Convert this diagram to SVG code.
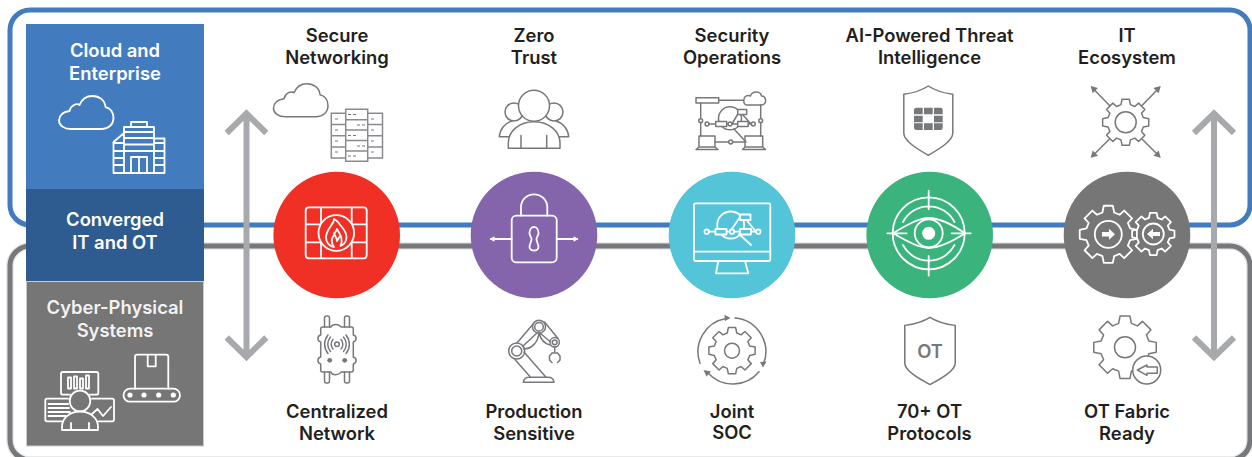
<svg xmlns="http://www.w3.org/2000/svg" width="1252" height="457" viewBox="0 0 1252 457">
<style>
text{font-family:Inter,"Liberation Sans",sans-serif;font-weight:600;font-size:18.4px;text-anchor:middle}
.d{fill:#231f20}.w{fill:#fff}
.fr{fill:none;stroke-width:5}
.lg{fill:none;stroke:#77787b;stroke-width:1.5;stroke-linejoin:round;stroke-linecap:round}
.lw{fill:none;stroke:#fff;stroke-width:1.8;stroke-linejoin:round;stroke-linecap:round}
.arr{fill:none;stroke:#a7a9ac;stroke-width:6}
</style>
<defs>
<path id="cloud" d="M71 129H101C109 129 113.500 124 113.500 118C113.500 112 110 108 105.500 107C105 100 99 96 92.500 96C86 96 81.500 100 79.500 105C78 104 76 104 74 105C71 106.500 70 108.500 69.500 111C63 112 59 115 59 120.500C59 125.500 64 129 71 129Z"/>
<path id="gear" vector-effect="non-scaling-stroke" d="M-15.500-98.500L15.500-98.500L20.200-75.300L39-67.500L55-81.900L81.900-55L67.500-39L75.300-20.200L98.500-15.500L98.500 15.500L75.300 20.200L67.500 39L81.900 55L55 81.900L39 67.500L20.200 75.300L15.500 98.500L-15.500 98.500L-20.200 75.300L-39 67.500L-55 81.900L-81.900 55L-67.500 39L-75.300 20.200L-98.500 15.500L-98.500-15.500L-75.300-20.200L-67.500-39L-81.900-55L-55-81.900L-39-67.500L-20.200-75.300Z"/>
<path id="shield" d="M0 0C6 4 15 7 24.500 8.300V47C24.500 55 11 63 0 69.300C-11 63-24.500 55-24.500 47V8.300C-15 7-6 4 0 0Z"/>
</defs>

<g id="connectors">
<rect class="fr" x="10" y="10" width="1240" height="215" rx="20" stroke="#427cbf"/>
<rect x="10" y="246" width="1240" height="214" rx="20" fill="none" stroke="#e3e4e5" stroke-width="7.500"/>
<rect class="fr" x="10" y="246" width="1240" height="214" rx="20" stroke="#77787b"/>
<path class="arr" d="M246.500 112V358M226.700 133L246.500 113.500L266.300 133M226.700 337.500L246.500 357L266.300 337.500"/>
<path class="arr" d="M1214 112V358M1194 133L1214 113.500L1234 133M1194 337.500L1214 357L1234 337.500"/>
</g>

<g id="panel-cloud">
<rect x="26" y="24" width="178" height="165" fill="#427cbf"/>
<text class="w" x="115" y="57">Cloud and</text><text class="w" x="115" y="80">Enterprise</text>
<use href="#cloud" class="lw"/>
<path class="lw" d="M131 127V122H147V127M124 173V127H154V173M113.500 173H164.500M113.500 173V142L124 133M154 138.500H164.500V173M124 132H154M124 138H154M124 144.500H154M124 151H154M131 173V157H147V173M139 157V173M113.500 143H124M113.500 151H124M113.500 158H124M113.500 165H124M154 143H164.500M154 151H164.500M154 158H164.500M154 165H164.500" stroke-width="1.300"/>
</g>
<g id="panel-converged">
<rect x="26" y="189" width="178" height="92" fill="#2e5c90"/>
<text class="w" x="115" y="226">Converged</text><text class="w" x="115" y="248.700">IT and OT</text>
</g>
<g id="panel-cps">
<rect x="26.500" y="281.500" width="177" height="164.500" fill="#767676" stroke="#c9cacb" stroke-width="1"/>
<text class="w" x="115" y="314" fill-opacity=".92">Cyber-Physical</text><text class="w" x="115" y="337" fill-opacity=".92">Systems</text>
<path class="lw" d="M70 394.700H63Q61 394.700 61 392.700V374Q61 372 63 372H96.300Q98.300 372 98.300 374V392.700Q98.300 394.700 96.300 394.700H90"/>
<path class="lw" d="M68 377.500h3v11h-3zM74 376.500h3v12h-3zM80 378.500h3v10h-3zM86 375.500h3v13h-3z" stroke-width="1.200"/>
<path class="lw" d="M68 398.700H47Q45.300 398.700 45.300 400.400V419.600Q45.300 421.300 47 421.300H63M92 398.700H112.300Q114 398.700 114 400.400V419.600Q114 421.300 112.300 421.300H98"/>
<path class="lw" d="M48.500 404H68M48.500 408H69M48.500 412H70M48.500 416H66M92 414L97.500 409L103 416L111 407" stroke-width="1.200"/>
<circle class="lw" cx="80" cy="401" r="10.300"/>
<path class="lw" d="M62 430V427C62 418 70 411.500 80 411.500C90 411.500 98 418 98 427V430ZM71 430V423M89 430V423"/>
<path class="lw" d="M135 388.700V357Q135 354.700 137.300 354.700H166Q168.300 354.700 168.300 357V388.700M147.700 354.700V366.300H155.700V354.700"/>
<rect class="lw" x="123.500" y="388.700" width="56.500" height="13" rx="6.500"/>
<circle class="w" cx="130" cy="395" r="2.600"/><circle class="w" cx="144" cy="395" r="2.600"/><circle class="w" cx="158.700" cy="395" r="2.600"/><circle class="w" cx="173.300" cy="395" r="2.600"/>
</g>

<g id="node-secure-networking">
<text class="d" x="337" y="41.600">Secure</text><text class="d" x="337" y="64">Networking</text>
<use href="#cloud" class="lg" x="214.500" y="-12.300"/>
<path d="M345.700 109.300H367.700V161.300H345.700ZM345.700 119.700H367.700M345.700 130.100H367.700M345.700 140.500H367.700M345.700 150.900H367.700M345.700 113.300H331.300V158H345.700M331.300 124.500H345.700M331.300 135.700H345.700M331.300 146.900H345.700M367.700 113.300H382.500V158H367.700M367.700 124.500H382.500M367.700 135.700H382.500M367.700 146.900H382.500" fill="none" stroke="#8a8b8e" stroke-width="1.500"/>
<path d="M335 119h3M335 130h3M335 141h3M335 152h3M371 119h3M371 130h3M371 141h3M371 152h3M348 114.500h3M353 114.500h3M357 125h3M362 125h3M348 135.500h3M353 135.500h3M357 146h3M362 146h3M348 156h3M353 156h3" stroke="#77787b" stroke-width="1.200" fill="none"/>
<circle cx="336.700" cy="235" r="63.300" fill="#f03024"/>
<path class="lw" d="M309 207.300H363.500Q366.700 207.300 366.700 210.500V255Q366.700 258.300 363.500 258.300H309Q305.700 258.300 305.700 255V210.500Q305.700 207.300 309 207.300ZM321 207.300V258.300M351.700 207.300V258.300M305.700 224.300H366.700M305.700 242.300H366.700"/>
<circle cx="336.300" cy="233" r="17.800" fill="#f03024" stroke="#fff" stroke-width="1.800"/>
<path class="lw" d="M334 219C334.500 224 326 229 326 237.500C326 243 330 246.500 334 247C331 243 331 239 334 235C335 232 336.500 231 337 229C339 233 344 238 340.500 246C343 245 346.500 242 346.500 237C346.500 230 340 226 338.500 222.500C337 221 335.500 220 334 219ZM334 233C335 236 337 238 337 241L340 236"/>
<text class="d" x="337" y="417.700">Centralized</text><text class="d" x="337" y="439.700">Network</text>
<path class="lg" d="M324.500 327V318Q324.500 316 326.500 316H327.500Q329.500 316 329.500 318V327M344.500 327V318Q344.500 316 346.500 316H347.500Q349.500 316 349.500 318V327M324.500 372V381Q324.500 383 326.500 383H327.500Q329.500 383 329.500 381V372M344.500 372V381Q344.500 383 346.500 383H347.500Q349.500 383 349.500 381V372"/>
<path class="lg" d="M323 327H331C332 323.500 339 323.500 341 327H351.500Q353.300 327 353.300 329V335C357 336 357 341 353.300 342V357C357 358 357 363 353.300 364V370Q353.300 372 351.500 372H341C339 375.500 332 375.500 331 372H322.500Q320.700 372 320.700 370V364C317 363 317 358 320.700 357V342C317 341 317 336 320.700 335V329Q320.700 327 323 327Z"/>
<circle cx="329.700" cy="360.300" r="2.400" fill="#77787b"/><circle cx="344.700" cy="360.300" r="2.400" fill="#77787b"/>
<circle class="lg" cx="337" cy="344.300" r="2.300"/>
<path class="lg" d="M333 339.500A7 7 0 0 0 333 349M330.500 337A11 11 0 0 0 330.500 351.500M328 335A14.500 14.500 0 0 0 328 353.500M341 339.500A7 7 0 0 1 341 349M343.500 337A11 11 0 0 1 343.500 351.500M346 335A14.500 14.500 0 0 1 346 353.500" stroke-width="1.200"/>
</g>

<g id="node-zero-trust">
<text class="d" x="534" y="41.600">Zero</text><text class="d" x="534" y="64">Trust</text>
<circle class="lg" cx="514" cy="112" r="9"/><circle class="lg" cx="554" cy="112" r="9"/>
<path class="lg" d="M509 136.700H499.300C500 129 505 123 512 121M559 136.700H568.700C568 129 563 123 556 121"/>
<circle cx="534" cy="105.700" r="15.500" fill="#fff" stroke="#77787b" stroke-width="1.500"/>
<path d="M508.300 148.300V143C508.300 131 519.500 121.700 534 121.700C548.500 121.700 560 131 560 143V148.300Z" fill="#fff" stroke="#77787b" stroke-width="1.500" stroke-linejoin="round"/>
<path class="lg" d="M521 135.500V148.300M546.700 135.500V148.300"/>
<circle cx="534" cy="235" r="63.300" fill="#8465ac"/>
<path class="lw" d="M521 215.700V207.500C521 199.500 527 194.300 534 194.300C541 194.300 547.300 199.500 547.300 207.500V215.700"/>
<rect class="lw" x="511.700" y="215.700" width="45" height="46.600" rx="4.500"/>
<path class="lw" d="M529.500 233C529.500 229.500 531.500 227 534 227C536.500 227 538.500 229.500 538.500 233C538.500 236 536.500 237 536.500 239C536.500 242 538.500 244 538.500 247C538.500 249 536.500 250.500 534 250.500C531.500 250.500 529.500 249 529.500 247C529.500 244 531.500 242 531.500 239C531.500 237 529.500 236 529.500 233Z"/>
<path class="lw" d="M511.700 239H491M556.700 239H577"/>
<path class="w" d="M489.500 239L494.500 236.300V241.700ZM578.500 239L573.500 236.300V241.700Z"/>
<text class="d" x="534" y="417.700">Production</text><text class="d" x="534" y="439.700">Sensitive</text>
<circle class="lg" cx="516.700" cy="351" r="8"/><circle class="lg" cx="516.700" cy="351" r="5"/>
<circle class="lg" cx="539" cy="326.700" r="6.500"/><circle class="lg" cx="539" cy="326.700" r="4.300"/>
<circle class="lg" cx="554.700" cy="342.300" r="4.700"/><circle class="lg" cx="554.700" cy="342.300" r="2.400"/>
<path class="lg" d="M517 343L533.500 323.500M522.500 346.500L538 332M523.500 349C532 349 538 342 539 333C541 341 546 344 550 345M544.500 322L558 338.500M540 333L550 341.500M515 359.500L530.500 377.300M524 352L546 377.300M523.300 382.300H554Q553.500 377.300 548 377.300H529Q524 377.300 523.300 382.300ZM554.700 347V352"/>
<path class="lg" d="M552 353L549.500 356V360L552 362.500M557.500 353L560 356V360L557.500 362.500M552 353H557.500"/>
</g>

<g id="node-security-operations">
<text class="d" x="732" y="41.600">Security</text><text class="d" x="732" y="64">Operations</text>
<g class="lg">
<rect x="696" y="97.700" width="22.700" height="5.300"/>
<path d="M718.700 100.300H743.500M700.700 103V136M760.700 105V136M715 142H745M709 124H751M732 124L739 112M743 115L751 124M734 129L746 142"/>
<path d="M746.500 105H761C765 105 766 102 765.500 99.500C765 97 763 96 761.500 96C761 93 758 91.700 755.500 92C753 92.300 751 94 750.500 96C748 94.500 744 96 743.800 100C743.500 103 745 105 746.500 105Z"/>
<circle cx="730" cy="118.300" r="11.500"/>
<rect x="715.700" y="121.500" width="11" height="5" fill="#fff"/><rect x="737.700" y="121.500" width="10.500" height="5" fill="#fff"/><rect x="737.700" y="109.500" width="9" height="5" fill="#fff"/>
<circle cx="707" cy="124" r="1.900" fill="#fff"/><circle cx="753.300" cy="124" r="1.900" fill="#fff"/><circle cx="730" cy="124" r="1.900" fill="#fff"/>
<circle cx="700.700" cy="120.700" r="1.900" fill="#fff"/><circle cx="760.700" cy="120.700" r="1.900" fill="#fff"/><circle cx="730.700" cy="142" r="1.900" fill="#fff"/>
<path d="M699 136H715V147H699ZM696 149.500L699 147H715L718 149.500ZM745 136H762.700V147H745ZM742.500 149.500L745 147H762.700L765.500 149.500Z"/>
</g>
<circle cx="732" cy="235" r="63.300" fill="#54c4d8"/>
<g class="lw">
<rect x="694" y="203.300" width="76.300" height="57.700" rx="1.500"/>
<path d="M694 251.700H770.300M718.300 261L716 273.300H748.300L745 261M709 231.700H756M730 231.700L740 217M745 218L756 231.700M739 234L751 245"/>
<circle cx="730.700" cy="225" r="13.500"/>
<rect x="715.500" y="229" width="11" height="5.500" fill="#54c4d8"/><rect x="740" y="229" width="11" height="5.500" fill="#54c4d8"/><rect x="740" y="214.500" width="10.500" height="5.500" fill="#54c4d8"/>
<circle cx="706.700" cy="231.700" r="2.200" fill="#54c4d8"/><circle cx="758.300" cy="231.700" r="2.200" fill="#54c4d8"/><circle cx="732" cy="231.700" r="2.200" fill="#54c4d8"/>
</g>
<text class="d" x="732" y="417.700">Joint</text><text class="d" x="732" y="439.300">SOC</text>
<use href="#gear" class="lg" transform="translate(732 350.700) scale(.235)"/>
<circle class="lg" cx="732" cy="350.700" r="7.500"/>
<path class="lg" d="M700 363.300A33.800 33.800 0 0 1 726 318.500M735 318A33.800 33.800 0 0 1 763.500 364M759 371.700A33.800 33.800 0 0 1 708 373"/>
<path fill="#77787b" d="M730.500 318L724.500 314.800L725 321ZM763 367.500L766.500 361.500L760 362ZM703.500 370L711 371.500L706.500 376.500Z"/>
</g>

<g id="node-threat-intelligence">
<text class="d" x="929.500" y="41.600">AI-Powered Threat</text><text class="d" x="929.500" y="64">Intelligence</text>
<use href="#shield" class="lg" x="928.300" y="86"/>
<path fill="#77787b" d="M914 114.300V110Q914 107.700 916.300 107.700H922.700V114.300ZM924 107.700H932.700V114.300H924ZM934 107.700H940.400Q942.700 107.700 942.700 110V114.300H934ZM914 115.700H922.700V122.300H914ZM934 115.700H942.700V122.300H934ZM914 123.300H922.700V130H916.300Q914 130 914 127.700ZM924 123.300H932.700V130H924ZM934 123.300H942.700V127.700Q942.700 130 940.400 130H934Z"/>
<circle cx="929.700" cy="235" r="63.300" fill="#3ab37d"/>
<g class="lw">
<circle cx="928.700" cy="233.300" r="36"/>
<path d="M928.700 190.700V209.300M928.700 256V275.700M887.300 233.300H906.700M951.700 233.300H970.700M903 222A29 29 0 0 1 954.500 222M903 245A29 29 0 0 0 954.500 245"/>
<path d="M893 233.300C910 223 920 218 928.700 218C938 218 950 223 965 233.300C950 243 938 248 928.700 248C920 248 910 243 893 233.300Z"/>
<circle cx="928.700" cy="233.300" r="14"/>
</g>
<circle class="w" cx="928.700" cy="233.300" r="6.500"/>
<text class="d" x="929.500" y="417.700">70+ OT</text><text class="d" x="929.500" y="439.700">Protocols</text>
<use href="#shield" class="lg" transform="translate(930 317.300) scale(1.030 .97)"/>
<text x="930" y="358.300" fill="#77787b">OT</text>
</g>

<g id="node-it-ecosystem">
<text class="d" x="1127" y="41.600">IT</text><text class="d" x="1127" y="64">Ecosystem</text>
<use href="#gear" class="lg" transform="translate(1125.700 122.300) scale(.234)"/>
<circle class="lg" cx="1125.700" cy="122.300" r="10.500"/>
<path class="lg" d="M1109.500 105.500L1092 87.500M1142 105.500L1159.500 87.500M1109.500 139L1092 156.500M1142 139L1159.500 156.500"/>
<path fill="#77787b" d="M1090.700 86L1098 88L1092.700 93.300ZM1160.700 86L1153.400 88L1158.700 93.300ZM1090.700 157.700L1098 155.700L1092.700 150.400ZM1160.700 157.700L1153.400 155.700L1158.700 150.400Z"/>
<circle cx="1127" cy="235" r="63.300" fill="#767676"/>
<g class="lw">
<use href="#gear" transform="translate(1108.300 234.300) scale(.29)"/>
<circle cx="1108.300" cy="234.300" r="13.500"/>
<use href="#gear" transform="translate(1153.300 234) scale(.215)"/>
<circle cx="1153.300" cy="234" r="10.500"/>
</g>
<path class="w" d="M1102 232H1109V228.800L1115 234.300L1109 239.800V236.600H1102ZM1160 232H1153V228.800L1147 234L1153 239.200V236H1160Z"/>
<text class="d" x="1127" y="417.700">OT Fabric</text><text class="d" x="1127" y="439.700">Ready</text>
<use href="#gear" class="lg" transform="translate(1125 347.300) scale(.317)"/>
<circle class="lg" cx="1125" cy="347.300" r="10.500"/>
<circle cx="1146.700" cy="370" r="14" fill="#fff" stroke="#77787b" stroke-width="1.500"/>
<path class="lg" d="M1137.300 370L1147 365V367H1157.300V373.300H1147V375.300Z"/>
</g>
</svg>
